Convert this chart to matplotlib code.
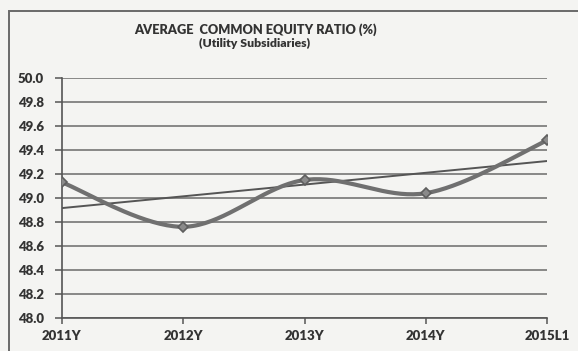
import numpy as np
import matplotlib
matplotlib.use("Agg")
import matplotlib.pyplot as plt

# Data
categories = ["2011Y", "2012Y", "2013Y", "2014Y", "2015L1"]
equity_ratio = [49.13, 48.76, 49.15, 49.04, 49.48]
y_ticks = [48.0, 48.2, 48.4, 48.6, 48.8, 49.0, 49.2, 49.4, 49.6, 49.8, 50.0]

title_line1 = "AVERAGE  COMMON EQUITY RATIO (%)"
title_line2 = "(Utility Subsidiaries)"

FONT = ["Lato", "DejaVu Sans"]
WEIGHT = "heavy"

BG = "#f4f4f2"
INK = "#333333"
GRID = "#6a6a6a"
LINE = "#707070"

fig = plt.figure(figsize=(5.78, 3.51), dpi=100, facecolor=BG)
W, H = 578, 351

x0, x1 = 62, 547
ytop, ybot = 78, 318
ax = fig.add_axes([x0 / W, 1 - ybot / H, (x1 - x0) / W, (ybot - ytop) / H])
ax.set_facecolor("none")

xs = np.arange(len(categories), dtype=float)
ys = np.array(equity_ratio)


def smooth_curve(px, py, n=40):
    """Catmull-Rom style cubic Bezier through the points."""
    P = np.column_stack([px, py])
    out = []
    for i in range(len(P) - 1):
        p0 = P[i - 1] if i > 0 else P[i]
        p1 = P[i]
        p2 = P[i + 1]
        p3 = P[i + 2] if i + 2 < len(P) else P[i + 1]
        c1 = p1 + (p2 - p0) / 6.0
        c2 = p2 - (p3 - p1) / 6.0
        t = np.linspace(0, 1, n)[:, None]
        seg = ((1 - t) ** 3) * p1 + 3 * ((1 - t) ** 2) * t * c1 + 3 * (1 - t) * t ** 2 * c2 + t ** 3 * p2
        out.append(seg if i == 0 else seg[1:])
    c = np.vstack(out)
    return c[:, 0], c[:, 1]


for v in y_ticks:
    ax.axhline(v, color=GRID, lw=1.1, zorder=1)

sx, sy = smooth_curve(xs, ys)
ax.plot(sx, sy, color=LINE, lw=3.0, solid_capstyle="round", zorder=3)
ax.plot(xs, ys, linestyle="none", marker="D", ms=5.5, color="#8a8a8a",
        markeredgecolor="#5e5e5e", markeredgewidth=1.2, zorder=4)

k, b = np.polyfit(xs, ys, 1)
ax.plot(xs[[0, -1]], k * xs[[0, -1]] + b, color="#555555", lw=1.4, zorder=2)

ax.set_xlim(0, len(categories) - 1)
ax.set_ylim(48.0, 50.0)
ax.set_yticks(y_ticks)
ax.set_yticklabels([f"{v:.1f}" for v in y_ticks])
ax.set_xticks(xs)
ax.set_xticklabels(categories)

for s in ["top", "right"]:
    ax.spines[s].set_visible(False)
for s in ["left", "bottom"]:
    ax.spines[s].set_color("#555555")
    ax.spines[s].set_linewidth(1.2)

ax.tick_params(axis="y", length=5, width=1.1, color="#555555", pad=8,
               labelsize=9.5, labelcolor=INK)
ax.tick_params(axis="x", length=4, width=1.1, color="#555555", pad=5,
               labelsize=9.5, labelcolor=INK)
for lab in ax.get_yticklabels() + ax.get_xticklabels():
    lab.set_fontweight(WEIGHT)
    lab.set_family(FONT)

fig.text(255 / W, 1 - 30 / H, title_line1, ha="center", va="center",
         fontsize=9.2, fontweight=WEIGHT, color=INK, family=FONT)
fig.text(255 / W, 1 - 43.5 / H, title_line2, ha="center", va="center",
         fontsize=8.8, fontweight=WEIGHT, color=INK, family=FONT)

frame = plt.Rectangle((8.5 / W, -0.05), 1.1, 1 - 10.5 / H + 0.05,
                      transform=fig.transFigure, fill=False,
                      edgecolor="#6a6a6a", lw=1.4, clip_on=False)
fig.add_artist(frame)

fig.savefig("out.png", dpi=100, facecolor=BG)
